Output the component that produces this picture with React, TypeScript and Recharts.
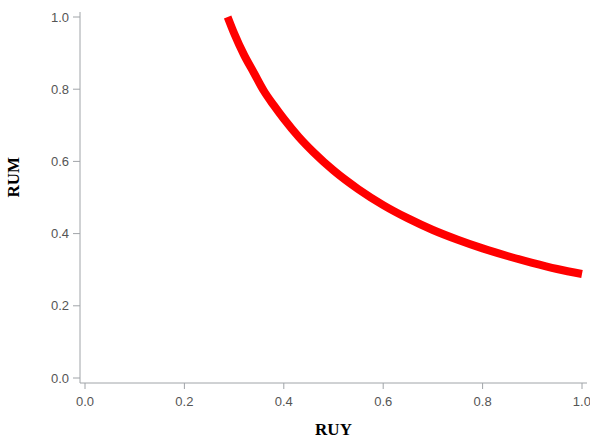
import { LineChart, Line, XAxis, YAxis } from "recharts";

// values (RUY -> RUM)
const ruy = [0.287, 0.3, 0.32, 0.34, 0.36, 0.38, 0.4, 0.43, 0.46, 0.5, 0.55, 0.6, 0.65, 0.7, 0.75, 0.8, 0.85, 0.9, 0.95, 1.0];
const rum = [1.0, 0.955, 0.895, 0.845, 0.795, 0.755, 0.718, 0.668, 0.625, 0.575, 0.523, 0.479, 0.442, 0.41, 0.383, 0.359, 0.338, 0.319, 0.302, 0.288];
const ticks = [0, 0.2, 0.4, 0.6, 0.8, 1.0];

const data = ruy.map((x, i) => ({ x, y: rum[i] }));

const axisColor = "#a0a4a8";
const tickStyle = { fill: "#555", fontSize: 13, fontFamily: "Liberation Sans, Arial, sans-serif" };
const labelStyle = { fontFamily: "Liberation Serif, serif", fontWeight: "bold", fontSize: 17, fill: "#000" };

export default function App() {
  return (
    <div style={{ position: "absolute", left: 0, top: 0, background: "#fff" }}>
      <LineChart width={590} height={441} data={data} margin={{ top: 12, right: 3, bottom: 0, left: 0 }}>
        <XAxis
          type="number"
          dataKey="x"
          domain={[0, 1]}
          ticks={ticks}
          tickFormatter={(v) => v.toFixed(1)}
          padding={{ left: 5, right: 5 }}
          stroke={axisColor}
          tick={tickStyle}
          tickSize={6}
          tickMargin={8}
          height={58}
          label={{ value: "RUY", position: "insideBottom", offset: 6, style: labelStyle }}
        />
        <YAxis
          type="number"
          dataKey="y"
          domain={[0, 1]}
          ticks={ticks}
          tickFormatter={(v) => v.toFixed(1)}
          padding={{ top: 5, bottom: 5 }}
          stroke={axisColor}
          tick={tickStyle}
          tickSize={7}
          tickMargin={4}
          width={80}
          label={{ value: "RUM", angle: -90, position: "insideLeft", offset: 13, style: labelStyle }}
        />
        <Line
          type="monotone"
          dataKey="y"
          stroke="#ff0000"
          strokeWidth={8}
          strokeLinecap="butt"
          dot={false}
          isAnimationActive={false}
        />
      </LineChart>
    </div>
  );
}
